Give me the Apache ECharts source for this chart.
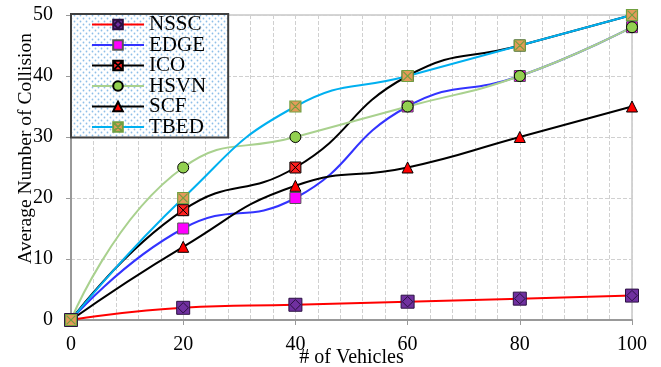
<!DOCTYPE html>
<html><head><meta charset="utf-8">
<script src="https://cdn.jsdelivr.net/npm/echarts@6/dist/echarts.min.js"></script>
<style>html,body{margin:0;padding:0;background:#fff}#c{width:661px;height:367px}</style>
</head><body><div id="c"></div>
<script>
const categories = [0, 20, 40, 60, 80, 100];
const NSSC = [0, 2, 2.5, 3, 3.5, 4];
const EDGE = [0, 15, 20, 35, 40, 48];
const ICO  = [0, 18, 25, 40, 45, 50];
const HSVN = [0, 25, 30, 35, 40, 48];
const SCF  = [0, 12, 22, 25, 30, 35];
const TBED = [0, 20, 35, 40, 45, 50];
const yTicks = [0, 10, 20, 30, 40, 50];

const font = 'Liberation Serif';
function pts(arr){ return categories.map((x,i)=>[x,arr[i]]); }

// dotted pattern
const pc = document.createElement('canvas');
pc.width = 6; pc.height = 6;
const px = pc.getContext('2d');
px.fillStyle = '#ffffff'; px.fillRect(0,0,6,6);
px.fillStyle = '#8fbfe8';
px.beginPath(); px.arc(1.5,1.5,0.9,0,Math.PI*2); px.fill();
px.beginPath(); px.arc(4.5,4.5,0.9,0,Math.PI*2); px.fill();

const sqX = 'path://M0,0L10,0L10,10L0,10Z M1,1L9,9 M9,1L1,9';
const sqD = 'path://M0,0L10,0L10,10L0,10Z M5,1L9,5L5,9L1,5Z';

const lineColors = ['#ff0000','#3333ff','#000000','#a9d18e','#000000','#00b0f0'];
const series = [
 {name:'NSSC', data:pts(NSSC), symbol:sqD, symbolSize:13,
  itemStyle:{color:'#7030a0', borderColor:'#2a1040', borderWidth:1}},
 {name:'EDGE', data:pts(EDGE), symbol:'rect', symbolSize:11,
  itemStyle:{color:'#ff00ff', borderColor:'#555', borderWidth:1}},
 {name:'ICO', data:pts(ICO), symbol:sqX, symbolSize:11,
  itemStyle:{color:'#ff2020', borderColor:'#000', borderWidth:1}},
 {name:'HSVN', data:pts(HSVN), symbol:'circle', symbolSize:11,
  itemStyle:{color:'#92d050', borderColor:'#000', borderWidth:1}},
 {name:'SCF', data:pts(SCF), symbol:'triangle', symbolSize:11,
  itemStyle:{color:'#ff0000', borderColor:'#000', borderWidth:1}},
 {name:'TBED', data:pts(TBED), symbol:sqX, symbolSize:11,
  itemStyle:{color:'#e59a5a', borderColor:'#70a040', borderWidth:1.2}}
].map((s,i)=>Object.assign({type:'line', smooth:true, showAllSymbol:true, z:3,
  lineStyle:{color:lineColors[i], width:2}}, s));

const chart = echarts.init(document.getElementById('c'), null, {renderer:'canvas'});
chart.setOption({
  animation:false,
  backgroundColor:'#fff',
  grid:{left:71, right:29, top:15, bottom:47, containLabel:false, outerBoundsMode:'none',
    show:true, borderColor:'#aaaaaa', borderWidth:1, backgroundColor:'transparent'},
  legend:{
    orient:'vertical', left:71, top:14, itemWidth:52, itemHeight:12, itemGap:-0.5,
    padding:[0,22,0,20],
    backgroundColor:{image:pc, repeat:'repeat'},
    borderColor:'#404040', borderWidth:2,
    textStyle:{fontFamily:font, fontSize:21, color:'#000'},
    data:series.map(s=>s.name)
  },
  xAxis:{type:'value', min:0, max:100, interval:20,
    name:'# of Vehicles', nameLocation:'middle', nameGap:28, nameMoveOverlap:false,
    nameTextStyle:{fontFamily:font, fontSize:20, color:'#000'},
    axisLine:{lineStyle:{color:'#999', width:2}},
    axisTick:{show:true, length:5, lineStyle:{color:'#999'}},
    axisLabel:{fontFamily:font, fontSize:20, color:'#000', margin:15},
    splitLine:{show:true, lineStyle:{color:'#d0d0d0', type:'dashed'}},
    minorTick:{show:false, splitNumber:5},
    minorSplitLine:{show:true, lineStyle:{color:'#d0d0d0', type:'dashed'}}
  },
  yAxis:{type:'value', min:0, max:50, interval:10,
    name:'Average Number of Collision', nameLocation:'middle', nameGap:35, nameMoveOverlap:false,
    nameTextStyle:{fontFamily:font, fontSize:19.5, color:'#000', padding:[0,0,0,38]},
    axisLine:{show:true, lineStyle:{color:'#999', width:2}},
    axisTick:{show:true, length:5, lineStyle:{color:'#999'}},
    axisLabel:{fontFamily:font, fontSize:20, color:'#000', margin:18},
    splitLine:{show:true, lineStyle:{color:'#d0d0d0', type:'dashed'}}
  },
  series:series
});
</script></body></html>
